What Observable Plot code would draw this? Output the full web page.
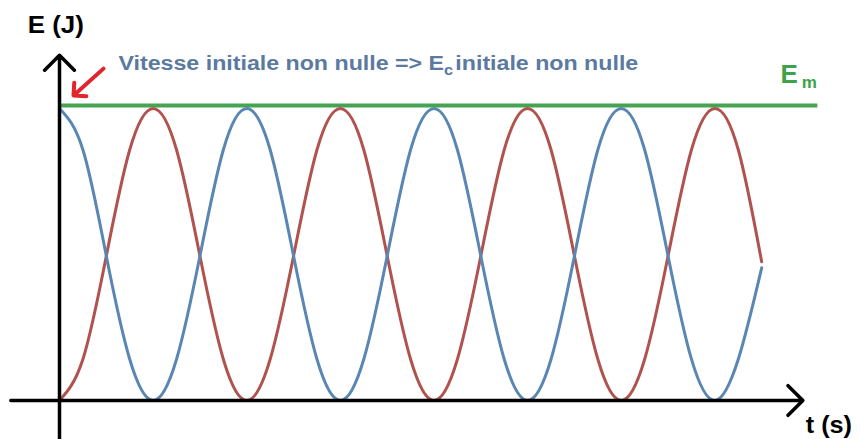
<!DOCTYPE html>
<html><head><meta charset="utf-8">
<script src="https://cdn.jsdelivr.net/npm/d3@7"></script>
<script src="https://cdn.jsdelivr.net/npm/@observablehq/plot@0.6"></script>
<style>body{margin:0;background:#fff} svg{display:block} #chart text{font-family:"Liberation Sans",Arial,sans-serif;font-weight:bold}</style>
</head><body><div id="chart"></div>
<script>
// time (arbitrary units: one unit = half an energy period)
const times = [0,0.25,0.5,0.75,1,1.25,1.5,1.75,2,2.25,2.5,2.75,3,3.25,3.5,3.75,4,4.25,4.5,4.75,5,5.25,5.5,5.75,6,6.25,6.5,6.75,7,7.25,7.5];
// kinetic energy Ec (blue), as a fraction of Em
const ecValues = [0.99,0.85,0.49,0.14,0,0.14,0.49,0.85,0.99,0.85,0.49,0.14,0,0.14,0.49,0.85,0.99,0.85,0.49,0.14,0,0.14,0.49,0.85,0.99,0.85,0.49,0.14,0,0.14,0.45];
// potential energy Ep (red)
const epValues = [0,0.14,0.49,0.85,0.99,0.85,0.49,0.14,0,0.14,0.49,0.85,0.99,0.85,0.49,0.14,0,0.14,0.49,0.85,0.99,0.85,0.49,0.14,0,0.14,0.49,0.85,0.99,0.85,0.47];
// mechanical energy Em
const emValue = 1;
const yLabel = "E (J)";
const xLabel = "t (s)";
const emParts = ["E", "m"];
const annotationParts = ["Vitesse initiale non nulle => E", "c", "initiale non nulle"];

const ec = times.map((t, i) => ({t, E: ecValues[i]}));
const ep = times.map((t, i) => ({t, E: epValues[i]}));

const arrowOpts = {x1: "x1", y1: "y1", x2: "x2", y2: "y2"};

const plot = Plot.plot({
  width: 861, height: 439,
  marginLeft: 0, marginRight: 0, marginTop: 0, marginBottom: 0,
  x: {domain: [0, 8], range: [59, 808], axis: null},
  y: {domain: [0, 1], range: [400, 105], axis: null},
  marks: [
    Plot.ruleY([emValue], {x1: 0, x2: 8.1, stroke: "#45a352", strokeWidth: 4}),
    Plot.line(ep, {x: "t", y: "E", stroke: "#b0534f", strokeWidth: 3, curve: "natural"}),
    Plot.line(ec, {x: "t", y: "E", stroke: "#5a86b4", strokeWidth: 3, curve: "natural"}),
    Plot.arrow([{x1: 0, y1: -0.13, x2: 0, y2: 1.17}], {...arrowOpts, stroke: "#000", strokeWidth: 3.5, headLength: 9, headAngle: 90}),
    Plot.arrow([{x1: -0.52, y1: 0, x2: 7.94, y2: 0}], {...arrowOpts, stroke: "#000", strokeWidth: 3.5, headLength: 9, headAngle: 90}),
    Plot.arrow([{x1: 0.47, y1: 1.125, x2: 0.15, y2: 1.034}], {...arrowOpts, stroke: "#e3242b", strokeWidth: 4, headLength: 4.8, headAngle: 90}),
    Plot.text([yLabel], {x: -0.34, y: 1.247, text: d => d, textAnchor: "start", lineAnchor: "bottom", fontSize: 24, fill: "#000"}),
    Plot.text([xLabel], {x: 7.97, y: -0.11, text: d => d, textAnchor: "start", lineAnchor: "bottom", fontSize: 23, fill: "#000"}),
    Plot.text([emParts.join("")], {x: 7.7, y: 1.075, text: d => d, textAnchor: "start", lineAnchor: "bottom", fontSize: 26, fill: "#3da34a"}),
    Plot.text([annotationParts.join("")], {x: 0.63, y: 1.119, text: d => d, textAnchor: "start", lineAnchor: "bottom", fontSize: 20, fill: "#5b7a9f"})
  ]
});

function stretch(el, s) {
  const tr = el.attr("transform") || "";
  el.attr("transform", tr + ` scale(${s},1)`);
}

d3.select(plot).selectAll("text").each(function() {
  const el = d3.select(this);
  const txt = el.text();
  if (txt === annotationParts.join("")) {
    el.text(null);
    el.append("tspan").text(annotationParts[0]);
    el.append("tspan").attr("dy", 5).attr("font-size", 14).text(annotationParts[1]);
    el.append("tspan").attr("dy", -5).attr("dx", 2).text(annotationParts[2]);
    stretch(el, 1.16);
  } else if (txt === emParts.join("")) {
    el.text(null);
    el.append("tspan").text(emParts[0]);
    el.append("tspan").attr("dy", 5).attr("dx", 4).attr("font-size", 17).text(emParts[1]);
  } else if (txt === yLabel) {
    stretch(el, 1.08);
  } else if (txt === xLabel) {
    stretch(el, 1.1);
  }
});

document.getElementById("chart").append(plot);
</script>
</body></html>
